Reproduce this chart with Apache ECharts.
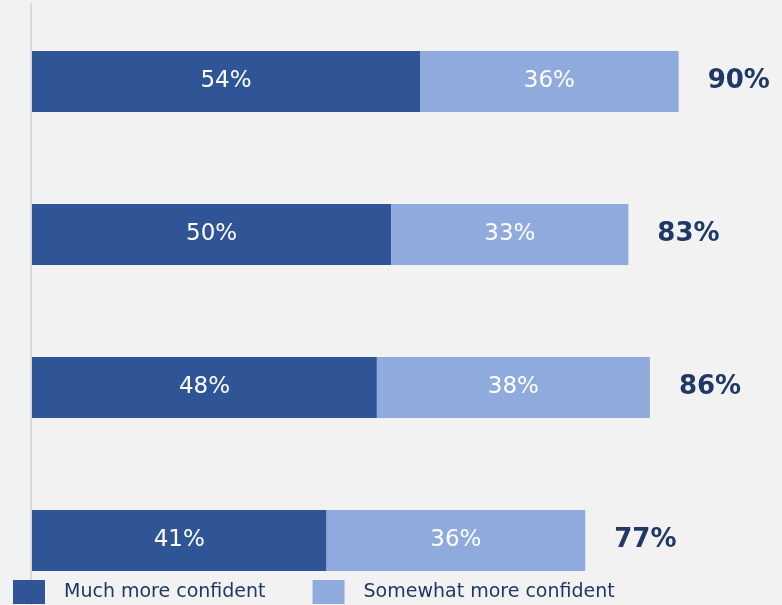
<!DOCTYPE html>
<html>
<head>
<meta charset="utf-8">
<script src="https://cdn.jsdelivr.net/npm/echarts@6/dist/echarts.min.js"></script>
<style>
html,body{margin:0;padding:0;background:#f2f2f2;}
#chart{width:782px;height:605px;}
</style>
</head>
<body>
<div id="chart"></div>
<script>
const categories = ['A', 'B', 'C', 'D'];
const muchMore = [54, 50, 48, 41];
const somewhatMore = [36, 33, 38, 36];
const totals = [90, 83, 86, 77];
const seriesNames = ['Much more confident', 'Somewhat more confident'];

const chart = echarts.init(document.getElementById('chart'));
const font = 'DejaVu Sans, Verdana, sans-serif';
chart.setOption({
  backgroundColor: '#f2f2f2',
  animation: false,
  grid: [
    { left: 32, top: 81.5, right: 31.5, height: 459, containLabel: false },
    { left: 31, top: 4, right: 31.5, bottom: 0, containLabel: false }
  ],
  xAxis: [
    { type: 'value', min: 0, max: 100, show: false, gridIndex: 0 },
    { type: 'value', min: 0, max: 100, show: false, gridIndex: 1 }
  ],
  yAxis: [
    {
      type: 'category', data: categories, inverse: true, boundaryGap: false, gridIndex: 0,
      axisLine: { show: false }, axisTick: { show: false }, axisLabel: { show: false }, splitLine: { show: false }
    },
    {
      type: 'value', gridIndex: 1,
      axisLine: { show: true, lineStyle: { color: '#d9d9d9', width: 2 } },
      axisTick: { show: false }, axisLabel: { show: false }, splitLine: { show: false }
    }
  ],
  legend: {
    data: seriesNames, left: 8, top: 575, itemWidth: 32, itemHeight: 24,
    itemGap: 47, icon: 'rect',
    textStyle: { fontFamily: font, fontSize: 19, color: '#1f3864', padding: [0, 0, 0, 14] }
  },
  series: [
    {
      name: seriesNames[0], type: 'bar', stack: 's', data: muchMore, barWidth: 61,
      itemStyle: { color: '#2f5597' },
      label: { show: true, position: 'inside', formatter: '{c}%', color: '#fff', fontFamily: font, fontSize: 23 }
    },
    {
      name: seriesNames[1], type: 'bar', stack: 's', data: somewhatMore, barWidth: 61,
      itemStyle: { color: '#8faadc' },
      label: { show: true, position: 'inside', formatter: '{c}%', color: '#fff', fontFamily: font, fontSize: 23 }
    },
    {
      name: 'Total', type: 'bar', data: totals, barWidth: 61, barGap: '-100%', z: 1,
      itemStyle: { color: 'rgba(0,0,0,0)' }, silent: true,
      label: { show: true, position: 'right', distance: 29, formatter: '{c}%', color: '#1f3864', fontFamily: font, fontSize: 26, fontWeight: 'bold' }
    }
  ]
});
</script>
</body>
</html>
